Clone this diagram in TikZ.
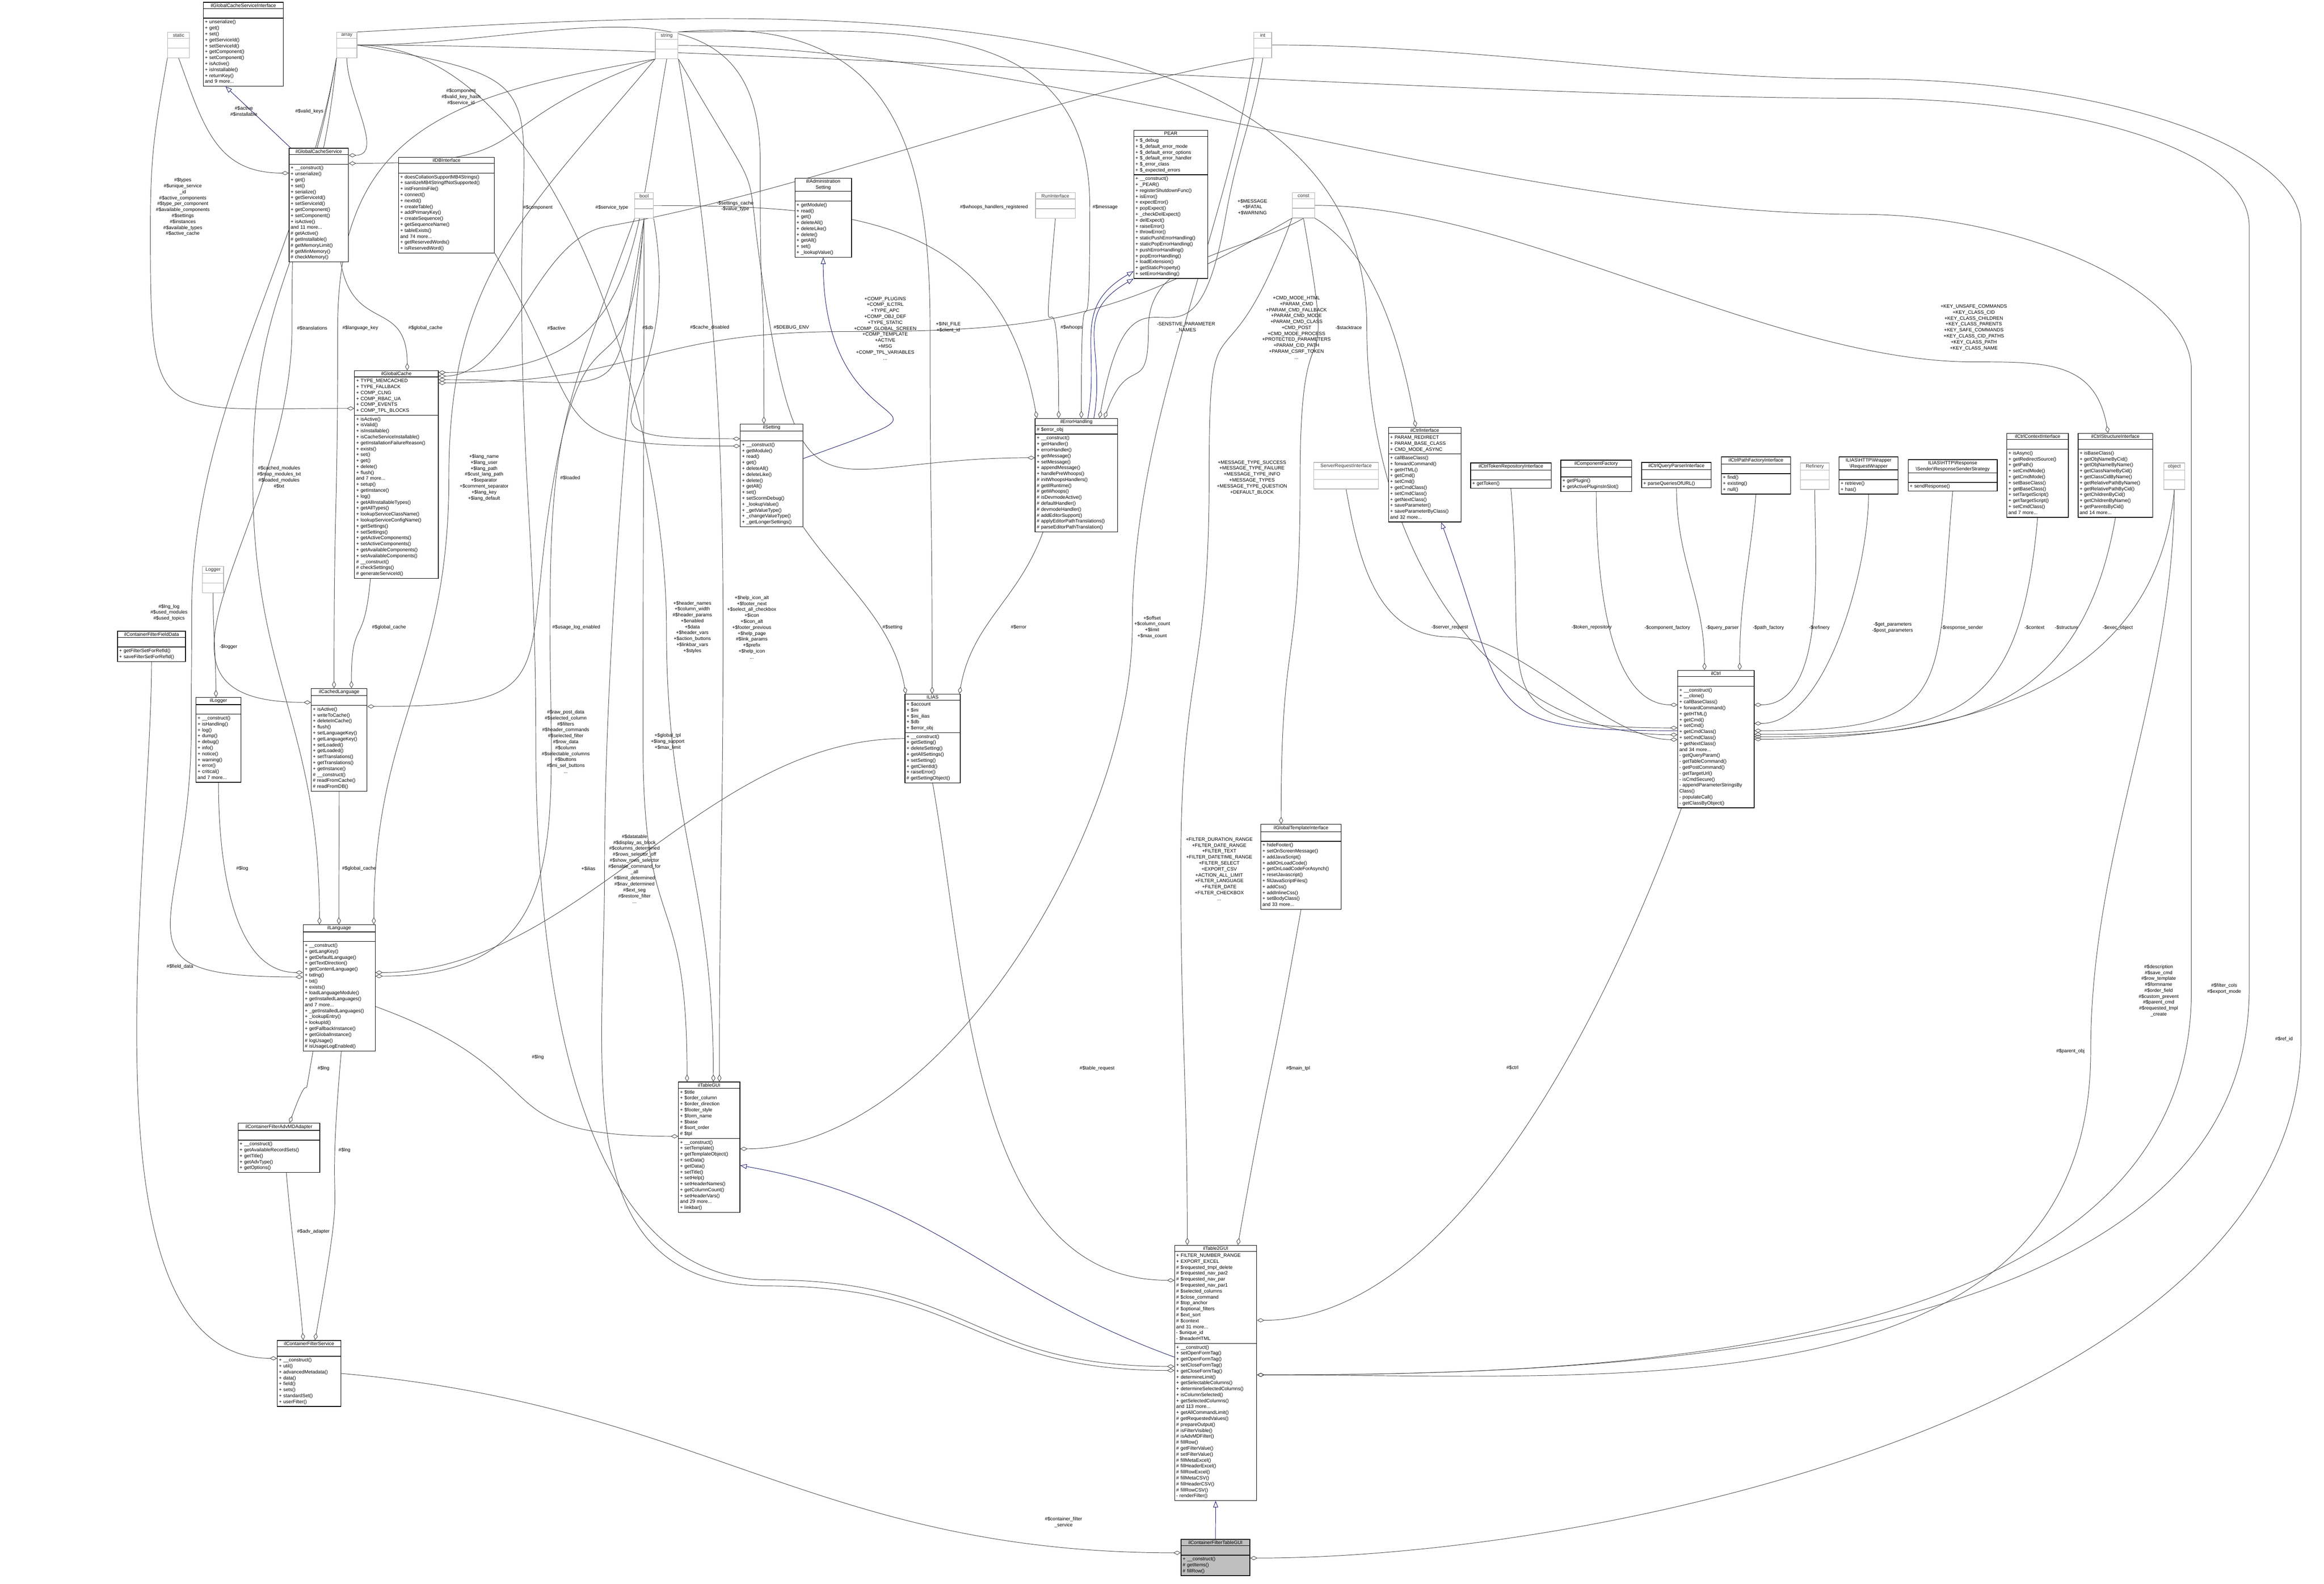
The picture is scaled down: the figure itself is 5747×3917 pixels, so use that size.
\documentclass[tikz,border=0pt]{standalone}
\usepackage{fontspec}
\setmainfont{Liberation Sans}
\usetikzlibrary{shapes.multipart,arrows.meta}
\pgfdeclarelayer{bg}
\pgfsetlayers{bg,main}
\definecolor{mblue}{HTML}{191970}
\newcommand\fsz{\fontsize{12}{14.7}\selectfont}
\newcommand\emptypart{\rule{0pt}{13pt}}
\newcommand\partl[1]{\begin{tabular}{@{}l@{}}#1\end{tabular}}
\tikzset{
 cls/.style={rectangle split, rectangle split parts=3, draw=black, line width=1.5pt, align=left,
   inner xsep=4pt, inner ysep=2.5pt, font=\fsz, anchor=north west, fill=white},
 lbl/.style={align=center, font=\fsz, inner sep=0pt},
 agg/.style={draw=black!72, line width=1.1pt, -{Diamond[open,length=18pt,width=10pt]}},
 inh/.style={draw=mblue, line width=1.1pt, {Triangle[open,length=16pt,width=12pt]}-},
}
\newcommand\cls[8][]{\pgfmathsetmacro\tw{#5-8}\node[cls,#1,text width=\tw pt] (#2) at (#3,-#4) {{\centering #6\par}\nodepart{two}\partl{#7}\nodepart{three}\partl{#8}};}
\newcommand\gcls[5]{\cls[draw=black!30,text=black!80]{#1}{#2}{#3}{#4}{#5}{\emptypart}{\emptypart}}
\begin{document}
\begin{tikzpicture}[x=1pt,y=1pt]
\catcode`\$=12 \catcode`\_=12 \catcode`\#=12
\useasboundingbox (0,0) rectangle (5747,-3917);
\begin{pgfonlayer}{bg}
\fill[white] (0,0) rectangle (5747,-3917);
\end{pgfonlayer}
% ---------- classes ----------
\cls{gcsi}{502}{5}{198}{ilGlobalCacheServiceInterface}{\emptypart}{+ unserialize()\\+ get()\\+ set()\\+ getServiceId()\\+ setServiceId()\\+ getComponent()\\+ setComponent()\\+ isActive()\\+ isInstallable()\\+ returnKey()\\and 9 more...}
\gcls{static}{414}{79}{54}{static}
\gcls{array}{832}{79}{50}{array}
\gcls{string}{1620}{79}{56}{string}
\gcls{int}{3100}{79}{44}{int}
\cls{gcs}{714}{366}{147}{ilGlobalCacheService}{\emptypart}{+ __construct()\\+ unserialize()\\+ get()\\+ set()\\+ serialize()\\+ getServiceId()\\+ setServiceId()\\+ getComponent()\\+ setComponent()\\+ isActive()\\and 11 more...\\# getActive()\\# getInstallable()\\# getMemoryLimit()\\# getMinMemory()\\# checkMemory()}
\cls{dbi}{985}{388}{237}{ilDBInterface}{\emptypart}{+ doesCollationSupportMB4Strings()\\+ sanitizeMB4StringIfNotSupported()\\+ initFromIniFile()\\+ connect()\\+ nextId()\\+ createTable()\\+ addPrimaryKey()\\+ createSequence()\\+ getSequenceName()\\+ tableExists()\\and 74 more...\\+ getReservedWords()\\+ isReservedWord()}
\gcls{bool}{1569}{476}{46}{bool}
\cls{iadm}{1965}{440}{140}{ilIAdministration\\Setting}{\emptypart}{+ getModule()\\+ read()\\+ get()\\+ deleteAll()\\+ deleteLike()\\+ delete()\\+ getAll()\\+ set()\\+ _lookupValue()}
\gcls{runi}{2560}{476}{98}{RunInterface}
\cls{pear}{2803}{322}{183}{PEAR}{+ $_debug\\+ $_default_error_mode\\+ $_default_error_options\\+ $_default_error_handler\\+ $_error_class\\+ $_expected_errors}{+ __construct()\\+ _PEAR()\\+ registerShutdownFunc()\\+ isError()\\+ expectError()\\+ popExpect()\\+ _checkDelExpect()\\+ delExpect()\\+ raiseError()\\+ throwError()\\+ staticPushErrorHandling()\\+ staticPopErrorHandling()\\+ pushErrorHandling()\\+ popErrorHandling()\\+ loadExtension()\\+ getStaticProperty()\\+ setErrorHandling()}
\gcls{const}{3195}{476}{55}{const}
\cls{gc}{876}{916}{207}{ilGlobalCache}{+ TYPE_MEMCACHED\\+ TYPE_FALLBACK\\+ COMP_CLNG\\+ COMP_RBAC_UA\\+ COMP_EVENTS\\+ COMP_TPL_BLOCKS}{+ isActive()\\+ isValid()\\+ isInstallable()\\+ isCacheServiceInstallable()\\+ getInstallationFailureReason()\\+ exists()\\+ set()\\+ get()\\+ delete()\\+ flush()\\and 7 more...\\+ setup()\\+ getInstance()\\+ log()\\+ getAllInstallableTypes()\\+ getAllTypes()\\+ lookupServiceClassName()\\+ lookupServiceConfigName()\\+ getSettings()\\+ setSettings()\\+ getActiveComponents()\\+ setActiveComponents()\\+ getAvailableComponents()\\+ setAvailableComponents()\\# __construct()\\# checkSettings()\\# generateServiceId()}
\cls{setting}{1830}{1048}{155}{ilSetting}{\emptypart}{+ __construct()\\+ getModule()\\+ read()\\+ get()\\+ deleteAll()\\+ deleteLike()\\+ delete()\\+ getAll()\\+ set()\\+ setScormDebug()\\+ _lookupValue()\\+ _getValueType()\\+ _changeValueType()\\+ _getLongerSettings()}
\cls{eh}{2559}{1034}{204}{ilErrorHandling}{# $error_obj}{+ __construct()\\+ getHandler()\\+ errorHandler()\\+ getMessage()\\+ setMessage()\\+ appendMessage()\\+ handlePreWhoops()\\# initWhoopsHandlers()\\# getIlRuntime()\\# getWhoops()\\# isDevmodeActive()\\# defaultHandler()\\# devmodeHandler()\\# addEditorSupport()\\# applyEditorPathTranslations()\\# parseEditorPathTranslation()}
\gcls{sri}{3248}{1143}{160}{ServerRequestInterface}
\cls{ctrli}{3433}{1056}{179}{ilCtrlInterface}{+ PARAM_REDIRECT\\+ PARAM_BASE_CLASS\\+ CMD_MODE_ASYNC}{+ callBaseClass()\\+ forwardCommand()\\+ getHTML()\\+ getCmd()\\+ setCmd()\\+ getCmdClass()\\+ setCmdClass()\\+ getNextClass()\\+ saveParameter()\\+ saveParameterByClass()\\and 32 more...}
\cls{tokr}{3636}{1144}{199}{ilCtrlTokenRepositoryInterface}{\emptypart}{+ getToken()}
\cls{compf}{3859}{1137}{175}{ilComponentFactory}{\emptypart}{+ getPlugin()\\+ getActivePluginsInSlot()}
\cls{qp}{4059}{1143}{172}{ilCtrlQueryParserInterface}{\emptypart}{+ parseQueriesOfURL()}
\cls{pf}{4256}{1129}{171}{ilCtrlPathFactoryInterface}{\emptypart}{+ find()\\+ existing()\\+ null()}
\gcls{refinery}{4451}{1144}{72}{Refinery}
\cls{rw}{4547}{1129}{146}{ILIAS\textbackslash HTTP\textbackslash Wrapper\\\textbackslash RequestWrapper}{\emptypart}{+ retrieve()\\+ has()}
\cls{rs}{4718}{1136}{220}{ILIAS\textbackslash HTTP\textbackslash Response\\\textbackslash Sender\textbackslash ResponseSenderStrategy}{\emptypart}{+ sendResponse()}
\cls{ctxi}{4962}{1071}{152}{ilCtrlContextInterface}{\emptypart}{+ isAsync()\\+ getRedirectSource()\\+ getPath()\\+ setCmdMode()\\+ getCmdMode()\\+ setBaseClass()\\+ getBaseClass()\\+ setTargetScript()\\+ getTargetScript()\\+ setCmdClass()\\and 7 more...}
\cls{stri}{5138}{1071}{185}{ilCtrlStructureInterface}{\emptypart}{+ isBaseClass()\\+ getObjNameByCid()\\+ getObjNameByName()\\+ getClassNameByCid()\\+ getClassCidByName()\\+ getRelativePathByName()\\+ getRelativePathByCid()\\+ getChildrenByCid()\\+ getChildrenByName()\\+ getParentsByCid()\\and 14 more...}
\gcls{object}{5350}{1144}{52}{object}
\cls{ctrl}{4148}{1657}{189}{ilCtrl}{\emptypart}{+ __construct()\\+ __clone()\\+ callBaseClass()\\+ forwardCommand()\\+ getHTML()\\+ getCmd()\\+ setCmd()\\+ getCmdClass()\\+ setCmdClass()\\+ getNextClass()\\and 34 more...\\- getQueryParam()\\- getTableCommand()\\- getPostCommand()\\- getTargetUrl()\\- isCmdSecure()\\- appendParameterStringsBy\\Class()\\- populateCall()\\- getClassByObject()}
\cls{ilias}{2237}{1716}{137}{ILIAS}{+ $account\\+ $ini\\+ $ini_ilias\\+ $db\\+ $error_obj}{+ __construct()\\+ getSetting()\\+ deleteSetting()\\+ getAllSettings()\\+ setSetting()\\+ getClientId()\\+ raiseError()\\# getSettingObject()}
\gcls{logger}{500}{1400}{52}{Logger}
\cls{fd}{290}{1560}{168}{ilContainerFilterFieldData}{\emptypart}{+ getFilterSetForRefId()\\+ saveFilterSetForRefId()}
\cls{illogger}{484}{1724}{111}{ilLogger}{\emptypart}{+ __construct()\\+ isHandling()\\+ log()\\+ dump()\\+ debug()\\+ info()\\+ notice()\\+ warning()\\+ error()\\+ critical()\\and 7 more...}
\cls{cl}{769}{1702}{138}{ilCachedLanguage}{\emptypart}{+ isActive()\\+ writeToCache()\\+ deleteInCache()\\+ flush()\\+ setLanguageKey()\\+ getLanguageKey()\\+ setLoaded()\\+ getLoaded()\\+ setTranslations()\\+ getTranslations()\\+ getInstance()\\# __construct()\\# readFromCache()\\# readFromDB()}
\cls{lang}{749}{2286}{178}{ilLanguage}{\emptypart}{+ __construct()\\+ getLangKey()\\+ getDefaultLanguage()\\+ getTextDirection()\\+ getContentLanguage()\\+ txtlng()\\+ txt()\\+ exists()\\+ loadLanguageModule()\\+ getInstalledLanguages()\\and 7 more...\\+ _getInstalledLanguages()\\+ _lookupEntry()\\+ lookupId()\\+ getFallbackInstance()\\+ getGlobalInstance()\\# logUsage()\\# isUsageLogEnabled()}
\cls{tpl}{3117}{2038}{199}{ilGlobalTemplateInterface}{\emptypart}{+ hideFooter()\\+ setOnScreenMessage()\\+ addJavaScript()\\+ addOnLoadCode()\\+ getOnLoadCodeForAsynch()\\+ resetJavascript()\\+ fillJavaScriptFiles()\\+ addCss()\\+ addInlineCss()\\+ setBodyClass()\\and 33 more...}
\cls{adv}{588}{2777}{202}{ilContainerFilterAdvMDAdapter}{\emptypart}{+ __construct()\\+ getAvailableRecordSets()\\+ getTitle()\\+ getAdvType()\\+ getOptions()}
\cls{tgui}{1677}{2675}{152}{ilTableGUI}{+ $title\\+ $order_column\\+ $order_direction\\+ $footer_style\\+ $form_name\\+ $base\\# $sort_order\\# $tpl}{+ __construct()\\+ setTemplate()\\+ getTemplateObject()\\+ setData()\\+ getData()\\+ setTitle()\\+ setHelp()\\+ setHeaderNames()\\+ getColumnCount()\\+ setHeaderVars()\\and 29 more...\\+ linkbar()}
\cls{t2}{2904}{3079}{203}{ilTable2GUI}{+ FILTER_NUMBER_RANGE\\+ EXPORT_EXCEL\\# $requested_tmpl_delete\\# $requested_nav_par2\\# $requested_nav_par\\# $requested_nav_par1\\# $selected_columns\\# $close_command\\# $top_anchor\\# $optional_filters\\# $ext_sort\\# $context\\and 31 more...\\- $unique_id\\- $headerHTML}{+ __construct()\\+ setOpenFormTag()\\+ getOpenFormTag()\\+ setCloseFormTag()\\+ getCloseFormTag()\\+ determineLimit()\\+ getSelectableColumns()\\+ determineSelectedColumns()\\+ isColumnSelected()\\+ getSelectedColumns()\\and 113 more...\\+ getAllCommandLimit()\\# getRequestedValues()\\# prepareOutput()\\# isFilterVisible()\\# isAdvMDFilter()\\# fillRow()\\# getFilterValue()\\# setFilterValue()\\# fillMetaExcel()\\# fillHeaderExcel()\\# fillRowExcel()\\# fillMetaCSV()\\# fillHeaderCSV()\\# fillRowCSV()\\- renderFilter()}
\cls{cfs}{685}{3314}{157}{ilContainerFilterService}{\emptypart}{+ __construct()\\+ util()\\+ advancedMetadata()\\+ data()\\+ field()\\+ sets()\\+ standardSet()\\+ userFilter()}
\cls[fill=black!25]{main}{2920}{3806}{170}{ilContainerFilterTableGUI}{\emptypart}{+ __construct()\\# getItems()\\# fillRow()}
% ---------- labels ----------
\node[lbl] (l1) at (603,-275) {#$active\\#$installable};
\node[lbl] (l2) at (765,-275) {#$valid_keys};
\node[lbl] (l3) at (1140,-240) {#$component\\#$valid_key_hash\\#$service_id};
\node[lbl] (l4) at (452,-512) {#$types\\#$unique_service\\_id\\#$active_components\\#$type_per_component\\#$available_components\\#$settings\\#$instances\\#$available_types\\#$active_cache};
\node[lbl] (l5) at (1052,-811) {#$global_cache};
\node[lbl] (l6) at (1330,-513) {#$component};
\node[lbl] (l7) at (1513,-513) {#$service_type};
\node[lbl] (l8) at (1376,-811) {#$active};
\node[lbl] (l9) at (2189,-812) {+COMP_PLUGINS\\+COMP_ILCTRL\\+TYPE_APC\\+COMP_OBJ_DEF\\+TYPE_STATIC\\+COMP_GLOBAL_SCREEN\\+COMP_TEMPLATE\\+ACTIVE\\+MSG\\+COMP_TPL_VARIABLES\\...};
\node[lbl] (l10) at (772,-811) {#$translations};
\node[lbl] (l11) at (891,-811) {#$language_key};
\node[lbl] (l12) at (962,-1551) {#$global_cache};
\node[lbl] (l13) at (1410,-1181) {#$loaded};
\node[lbl] (l14) at (1602,-810) {#$db};
\node[lbl] (l15) at (1755,-810) {#$cache_disabled};
\node[lbl] (l16) at (1818,-510) {-$settings_cache\\-$value_type};
\node[lbl] (l17) at (1957,-810) {#$DEBUG_ENV};
\node[lbl] (l18) at (2458,-512) {#$whoops_handlers_registered};
\node[lbl] (l19) at (2733,-512) {#$message};
\node[lbl] (l20) at (2650,-810) {#$whoops};
\node[lbl] (l21) at (3097,-512) {+$MESSAGE\\+$FATAL\\+$WARNING};
\node[lbl] (l22) at (2933,-810) {-SENSTIVE_PARAMETER\\_NAMES};
\node[lbl] (l23) at (3206,-810) {+CMD_MODE_HTML\\+PARAM_CMD\\+PARAM_CMD_FALLBACK\\+PARAM_CMD_MODE\\+PARAM_CMD_CLASS\\+CMD_POST\\+CMD_MODE_PROCESS\\+PROTECTED_PARAMETERS\\+PARAM_CID_PATH\\+PARAM_CSRF_TOKEN\\...};
\node[lbl] (l24) at (3335,-810) {-$stacktrace};
\node[lbl] (l25) at (3096,-1181) {+MESSAGE_TYPE_SUCCESS\\+MESSAGE_TYPE_FAILURE\\+MESSAGE_TYPE_INFO\\+MESSAGE_TYPES\\+MESSAGE_TYPE_QUESTION\\+DEFAULT_BLOCK};
\node[lbl] (l26) at (2345,-809) {+$INI_FILE\\+$client_id};
\node[lbl] (l27) at (2207,-1551) {#$setting};
\node[lbl] (l28) at (2519,-1550) {#$error};
\node[lbl] (l29) at (3585,-1551) {-$server_request};
\node[lbl] (l30) at (3936,-1551) {-$token_repository};
\node[lbl] (l31) at (4123,-1552) {-$component_factory};
\node[lbl] (l32) at (4259,-1552) {-$query_parser};
\node[lbl] (l33) at (4373,-1552) {-$path_factory};
\node[lbl] (l34) at (4499,-1552) {-$refinery};
\node[lbl] (l35) at (4680,-1552) {-$get_parameters\\-$post_parameters};
\node[lbl] (l36) at (4852,-1552) {-$response_sender};
\node[lbl] (l37) at (5031,-1552) {-$context};
\node[lbl] (l38) at (5110,-1552) {-$structure};
\node[lbl] (l39) at (5237,-1552) {-$exec_object};
\node[lbl] (l40) at (4881,-810) {+KEY_UNSAFE_COMMANDS\\+KEY_CLASS_CID\\+KEY_CLASS_CHILDREN\\+KEY_CLASS_PARENTS\\+KEY_SAFE_COMMANDS\\+KEY_CLASS_CID_PATHS\\+KEY_CLASS_PATH\\+KEY_CLASS_NAME};
\node[lbl] (l41) at (565,-1600) {-$logger};
\node[lbl] (l42) at (418,-1515) {#$lng_log\\#$used_modules\\#$used_topics};
\node[lbl] (l43) at (690,-1180) {#$cached_modules\\#$map_modules_txt\\#$loaded_modules\\#$txt};
\node[lbl] (l44) at (599,-2148) {#$log};
\node[lbl] (l45) at (888,-2148) {#$global_cache};
\node[lbl] (l46) at (1455,-2148) {+$ilias};
\node[lbl] (l47) at (1197,-1181) {+$lang_name\\+$lang_user\\+$lang_path\\#$cust_lang_path\\+$separator\\+$comment_separator\\+$lang_key\\+$lang_default};
\node[lbl] (l48) at (1425,-1551) {#$usage_log_enabled};
\node[lbl] (l49) at (800,-2642) {#$lng};
\node[lbl] (l50) at (852,-2844) {#$lng};
\node[lbl] (l51) at (775,-3046) {#$adv_adapter};
\node[lbl] (l52) at (445,-2390) {#$field_data};
\node[lbl] (l53) at (1330,-2615) {#$lng};
\node[lbl] (l54) at (1712,-1551) {+$header_names\\+$column_width\\#$header_params\\+$enabled\\+$data\\+$header_vars\\+$action_buttons\\+$linkbar_vars\\+$styles};
\node[lbl] (l55) at (1859,-1551) {+$help_icon_alt\\+$footer_next\\+$select_all_checkbox\\+$icon\\+$icon_alt\\+$footer_previous\\+$help_page\\#$link_params\\+$prefix\\+$help_icon\\...};
\node[lbl] (l56) at (1651,-1834) {+$global_tpl\\+$lang_support\\+$max_limit};
\node[lbl] (l57) at (2849,-1551) {+$offset\\+$column_count\\+$limit\\+$max_count};
\node[lbl] (l58) at (1399,-1834) {#$raw_post_data\\#$selected_column\\#$filters\\#$header_commands\\#$selected_filter\\#$row_data\\#$column\\#$selectable_columns\\#$buttons\\#$mi_sel_buttons\\...};
\node[lbl] (l59) at (1569,-2149) {#$datatable\\#$display_as_block\\#$columns_determined\\#$rows_selector_off\\#$show_rows_selector\\#$enable_command_for\\_all\\#$limit_determined\\#$nav_determined\\#$ext_seg\\#$restore_filter\\...};
\node[lbl] (l60) at (2713,-2642) {#$table_request};
\node[lbl] (l61) at (3015,-2149) {+FILTER_DURATION_RANGE\\+FILTER_DATE_RANGE\\+FILTER_TEXT\\+FILTER_DATETIME_RANGE\\+FILTER_SELECT\\+EXPORT_CSV\\+ACTION_ALL_LIMIT\\+FILTER_LANGUAGE\\+FILTER_DATE\\+FILTER_CHECKBOX\\...};
\node[lbl] (l62) at (3210,-2642) {#$main_tpl};
\node[lbl] (l63) at (3740,-2640) {#$ctrl};
\node[lbl] (l64) at (5120,-2600) {#$parent_obj};
\node[lbl] (l65) at (5338,-2450) {#$description\\#$save_cmd\\#$row_template\\#$formname\\#$order_field\\#$custom_prevent\\#$parent_cmd\\#$requested_tmpl\\_create};
\node[lbl] (l66) at (5500,-2445) {#$filter_cols\\#$export_mode};
\node[lbl] (l67) at (5648,-2570) {#$ref_id};
\node[lbl] (l68) at (2630,-3764) {#$container_filter\\_service};
% ---------- via points ----------
\coordinate (v5) at (372,-560);
\coordinate (v8) at (1500,-560);
\coordinate (v10) at (2090,-820);
\coordinate (v11) at (722,-811);
\coordinate (v12) at (835,-811);
\coordinate (v14) at (1370,-1181);
\coordinate (v17) at (1880,-400);
\coordinate (v21) at (2695,-512);
\coordinate (v23) at (3030,-540);
\coordinate (v24) at (2840,-810);
\coordinate (v25) at (1905,-810);
\coordinate (v27) at (2300,-809);
\coordinate (v30) at (3380,-810);
\coordinate (v31) at (3585,-1575);
\coordinate (v43) at (4881,-895);
\coordinate (v44) at (3215,-1181);
\coordinate (v45a) at (2990,-1181);
\coordinate (v45) at (2920,-2149);
\coordinate (v49a) at (1290,-700);
\coordinate (v49) at (1325,-1834);
\coordinate (v49b) at (1900,-3165);
\coordinate (v50) at (1495,-2149);
\coordinate (v50b) at (1900,-3180);
\coordinate (v52) at (2800,-1551);
\coordinate (v53) at (625,-1180);
\coordinate (v54a) at (474,-1515);
\coordinate (v54b) at (473,-1800);
\coordinate (v57) at (1110,-1181);
\coordinate (v59) at (1360,-1551);
\coordinate (v65) at (1590,-1834);
\coordinate (v66) at (1648,-1551);
\coordinate (v67) at (1788,-1551);
\coordinate (vD0) at (4600,-530);
\coordinate (vD1) at (5419,-915);
\coordinate (vD) at (5419,-2450);
\coordinate (vF0) at (4600,-243);
\coordinate (vF1) at (5562,-560);
\coordinate (vF) at (5562,-2445);
\coordinate (vR0) at (4600,-195);
\coordinate (vR1) at (5690,-560);
\coordinate (vR) at (5690,-2570);
\coordinate (vP) at (5170,-2600);
% ---------- connectors ----------
\begin{pgfonlayer}{bg}
\draw[agg] (static.south) .. controls +(-70:180) and +(180:180) .. ([yshift=-62pt]gcs.north west);
\draw[agg] (array.south) .. controls +(-90:90) and +(0:90) .. ([yshift=-18pt]gcs.north east);
\draw[agg] (string.south west) .. controls +(-160:500) and +(0:500) .. ([yshift=-38pt]gcs.north east);
\draw[inh] ([xshift=-44pt]gcsi.south) -- ([xshift=5pt]gcs.north west);
\draw[agg] (static.south west) .. controls +(-100:180) and +(90:180) .. (v5) .. controls +(-90:500) and +(180:500) .. ([yshift=-94pt]gc.north west);
\draw[agg] ([xshift=-20pt]gcs.south east) .. controls +(-80:180) and +(90:180) .. ([xshift=131pt]gc.north west);
\draw[agg] (string.south) .. controls +(-100:500) and +(0:500) .. ([yshift=-5pt]gc.north east);
\draw[agg] (int.south west) .. controls +(-170:500) and +(10:500) .. (v8) .. controls +(190:180) and +(0:180) .. ([yshift=-14pt]gc.north east);
\draw[agg] (bool.south) .. controls +(-100:500) and +(0:500) .. ([yshift=-23pt]gc.north east);
\draw[agg] (const.south west) .. controls +(-150:500) and +(0:500) .. (v10) .. controls +(180:500) and +(0:500) .. ([yshift=-31pt]gc.north east);
\draw[agg] (array.south west) .. controls +(-100:500) and +(90:500) .. (v11) .. controls +(-90:500) and +(180:500) .. ([yshift=-35pt]cl.north west);
\draw[agg] (string.south west) .. controls +(-170:500) and +(90:500) .. (v12) .. controls +(-90:500) and +(90:500) .. ([xshift=57pt]cl.north west);
\draw[agg] ([xshift=40pt]gc.south west) .. controls +(-95:180) and +(90:180) .. ([xshift=100pt]cl.north west);
\draw[agg] (bool.south) .. controls +(-95:500) and +(80:500) .. (v14) .. controls +(-100:500) and +(0:500) .. ([yshift=-45pt]cl.north east);
\draw[agg] (dbi.south east) .. controls +(-60:500) and +(180:500) .. ([yshift=-55pt]setting.north west);
\draw[agg] (bool.south east) .. controls +(-80:500) and +(180:500) .. ([yshift=-37pt]setting.north west);
\draw[agg] (array.east) .. controls +(0:500) and +(90:500) .. (v17) .. controls +(-90:500) and +(90:500) .. ([xshift=59pt]setting.north west);
\draw[inh] (iadm.south) .. controls +(-90:500) and +(20:500) .. ([yshift=-86pt]setting.north east);
\draw[agg] (bool.east) .. controls +(0:500) and +(100:500) .. ([xshift=5pt]eh.north west);
\draw[agg] (runi.south) .. controls +(-95:500) and +(90:500) .. ([xshift=59pt]eh.north west);
\draw[agg] (string.north east) .. controls +(0:500) and +(90:500) .. (v21) .. controls +(-90:500) and +(90:500) .. ([xshift=115pt]eh.north west);
\draw[inh] ([yshift=-349pt]pear.north west) .. controls +(-150:180) and +(80:180) .. ([xshift=131pt]eh.north west);
\draw[inh] (pear.south west) .. controls +(-150:180) and +(80:180) .. ([xshift=146pt]eh.north west);
\draw[agg] (int.south) .. controls +(-100:180) and +(80:180) .. (v23) .. controls +(-100:500) and +(80:500) .. ([xshift=160pt]eh.north west);
\draw[agg] (const.south) .. controls +(-150:180) and +(90:180) .. (v24) .. controls +(-90:180) and +(70:180) .. ([xshift=172pt]eh.north west);
\draw[agg] (string.south east) .. controls +(-60:500) and +(100:500) .. (v25) .. controls +(-80:500) and +(180:500) .. ([yshift=-98pt]eh.north west);
\draw[agg] (setting.south east) .. controls +(-55:180) and +(100:180) .. ([xshift=3pt]ilias.north west);
\draw[agg] (string.north east) .. controls +(5:500) and +(90:500) .. (v27) .. controls +(-90:500) and +(90:500) .. ([xshift=68pt]ilias.north west);
\draw[agg] ([xshift=20pt]eh.south west) .. controls +(-110:180) and +(80:180) .. ([xshift=-3pt]ilias.north east);
\draw[agg] (const.south east) .. controls +(-30:180) and +(100:180) .. ([xshift=68pt]ctrli.north west);
\draw[agg] (array.north east) .. controls +(3:900) and +(90:900) .. (v30) .. controls +(-90:500) and +(180:500) .. ([yshift=-160pt]ctrl.north west);
\draw[agg] (sri.south) .. controls +(-80:180) and +(180:180) .. (v31) .. controls +(0:180) and +(180:180) .. ([yshift=-172pt]ctrl.north west);
\draw[agg] (tokr.south) .. controls +(-85:500) and +(180:500) .. ([yshift=-143pt]ctrl.north west);
\draw[agg] (compf.south) .. controls +(-90:180) and +(180:180) .. ([yshift=-86pt]ctrl.north west);
\draw[inh] ([xshift=131pt]ctrli.south west) .. controls +(-70:500) and +(180:500) .. ([yshift=-150pt]ctrl.north west);
\draw[agg] (qp.south) .. controls +(-90:180) and +(90:180) .. ([xshift=67pt]ctrl.north west);
\draw[agg] (pf.south) .. controls +(-95:180) and +(90:180) .. ([xshift=154pt]ctrl.north west);
\draw[agg] (refinery.south) .. controls +(-90:180) and +(0:180) .. ([yshift=-86pt]ctrl.north east);
\draw[agg] (rw.south) .. controls +(-90:180) and +(0:180) .. ([yshift=-132pt]ctrl.north east);
\draw[agg] (rs.south) .. controls +(-95:500) and +(0:500) .. ([yshift=-150pt]ctrl.north east);
\draw[agg] (ctxi.south) .. controls +(-95:500) and +(0:500) .. ([yshift=-159pt]ctrl.north east);
\draw[agg] (stri.south) .. controls +(-100:500) and +(0:500) .. ([yshift=-165pt]ctrl.north east);
\draw[agg] (object.south) .. controls +(-95:500) and +(0:500) .. ([yshift=-171pt]ctrl.north east);
\draw[agg] (const.east) .. controls +(0:500) and +(180:500) .. (v43) .. controls +(0:180) and +(100:180) .. ([xshift=75pt]stri.north west);
\draw[agg] (const.south) .. controls +(-80:500) and +(90:500) .. (v44) .. controls +(-90:500) and +(90:500) .. ([xshift=51pt]tpl.north west);
\draw[agg] (const.south west) .. controls +(-110:500) and +(90:500) .. (v45a) .. controls +(-90:500) and +(90:500) .. (v45) .. controls +(-90:400) and +(90:400) .. ([xshift=32pt]t2.north west);
\draw[agg] (tpl.south) .. controls +(-100:500) and +(80:500) .. ([xshift=157pt]t2.north west);
\draw[agg] (ilias.south) .. controls +(-80:500) and +(180:500) .. ([yshift=-87pt]t2.north west);
\draw[agg] ([xshift=10pt]ctrl.south west) .. controls +(-110:500) and +(0:500) .. ([yshift=-186pt]t2.north east);
\draw[agg] (array.east) .. controls +(-10:500) and +(90:500) .. (v49a) .. controls +(-90:500) and +(90:500) .. (v49) .. controls +(-90:500) and +(180:500) .. (v49b) .. controls +(0:500) and +(180:500) .. ([yshift=-300pt]t2.north west);
\draw[agg] (bool.south) .. controls +(-95:500) and +(90:500) .. (v50) .. controls +(-90:500) and +(180:500) .. (v50b) .. controls +(0:500) and +(180:500) .. ([yshift=-310pt]t2.north west);
\draw[agg] ([yshift=-203pt]lang.north east) .. controls +(-20:500) and +(180:500) .. ([yshift=-135pt]tgui.north west);
\draw[agg] (int.south west) .. controls +(-100:500) and +(90:500) .. (v52) .. controls +(-90:500) and +(0:500) .. ([yshift=-166pt]tgui.north east);
\draw[inh] ([yshift=-207pt]tgui.north east) .. controls +(-10:500) and +(160:500) .. ([yshift=-277pt]t2.north west);
\draw[agg] (array.south west) .. controls +(-95:500) and +(90:500) .. (v53) .. controls +(-90:500) and +(90:500) .. ([xshift=41pt]lang.north west);
\draw[agg] (array.south west) .. controls +(-100:500) and +(90:500) .. (v54a) .. controls +(-90:180) and +(90:180) .. (v54b) .. controls +(-90:500) and +(180:500) .. ([yshift=-130pt]lang.north west);
\draw[agg] (illogger.south) .. controls +(-90:180) and +(180:180) .. ([yshift=-119pt]lang.north west);
\draw[agg] (cl.south) .. controls +(-90:180) and +(90:180) .. ([xshift=89pt]lang.north west);
\draw[agg] (string.south west) .. controls +(-130:500) and +(90:500) .. (v57) .. controls +(-90:500) and +(90:500) .. ([xshift=-4pt]lang.north east);
\draw[agg] (ilias.west) .. controls +(180:500) and +(0:500) .. ([yshift=-119pt]lang.north east);
\draw[agg] (bool.south west) .. controls +(-110:500) and +(90:500) .. (v59) .. controls +(-90:500) and +(0:500) .. ([yshift=-128pt]lang.north east);
\draw[agg] ([xshift=25pt]lang.south west) .. controls +(-100:180) and +(70:180) .. ([xshift=128pt]adv.north west);
\draw[agg] ([xshift=95pt]lang.south west) .. controls +(-95:500) and +(80:500) .. ([xshift=94pt]cfs.north west);
\draw[agg] ([xshift=120pt]adv.south west) .. controls +(-85:180) and +(95:180) .. ([xshift=65pt]cfs.north west);
\draw[agg] (fd.south) .. controls +(-90:500) and +(180:500) .. ([yshift=-45pt]cfs.north west);
\draw[agg] (logger.south) .. controls +(-90:90) and +(90:90) .. ([xshift=50pt]illogger.north west);
\draw[agg] (bool.south) .. controls +(-90:500) and +(90:500) .. (v65) .. controls +(-90:500) and +(90:500) .. ([xshift=22pt]tgui.north west);
\draw[agg] (array.east) .. controls +(0:500) and +(90:500) .. (v66) .. controls +(-90:500) and +(90:500) .. ([xshift=87pt]tgui.north west);
\draw[agg] (string.south east) .. controls +(-80:500) and +(90:500) .. (v67) .. controls +(-90:500) and +(90:500) .. ([xshift=102pt]tgui.north west);
\draw[agg] (string.east) .. controls +(0:900) and +(180:900) .. (vD0) .. controls +(0:400) and +(90:200) .. (vD1) -- (vD) .. controls +(-90:900) and +(0:900) .. ([yshift=-321pt]t2.north east);
\draw[agg] (array.east) .. controls +(0:900) and +(180:900) .. (vF0) .. controls +(0:500) and +(90:200) .. (vF1) -- (vF) .. controls +(-90:900) and +(0:900) .. ([yshift=-321pt]t2.north east);
\draw[agg] (int.east) .. controls +(0:500) and +(180:500) .. (vR0) .. controls +(0:600) and +(90:200) .. (vR1) -- (vR) .. controls +(-90:900) and +(0:900) .. ([yshift=-47pt]main.north east);
\draw[agg] (object.south) .. controls +(-90:500) and +(90:500) .. (vP) .. controls +(-90:900) and +(0:900) .. ([yshift=-321pt]t2.north east);
\draw[agg] (cfs.east) .. controls +(-5:900) and +(180:900) .. ([yshift=-34pt]main.north west);
\draw[inh] (t2.south) -- (main.north);
\end{pgfonlayer}
\end{tikzpicture}
\end{document}
